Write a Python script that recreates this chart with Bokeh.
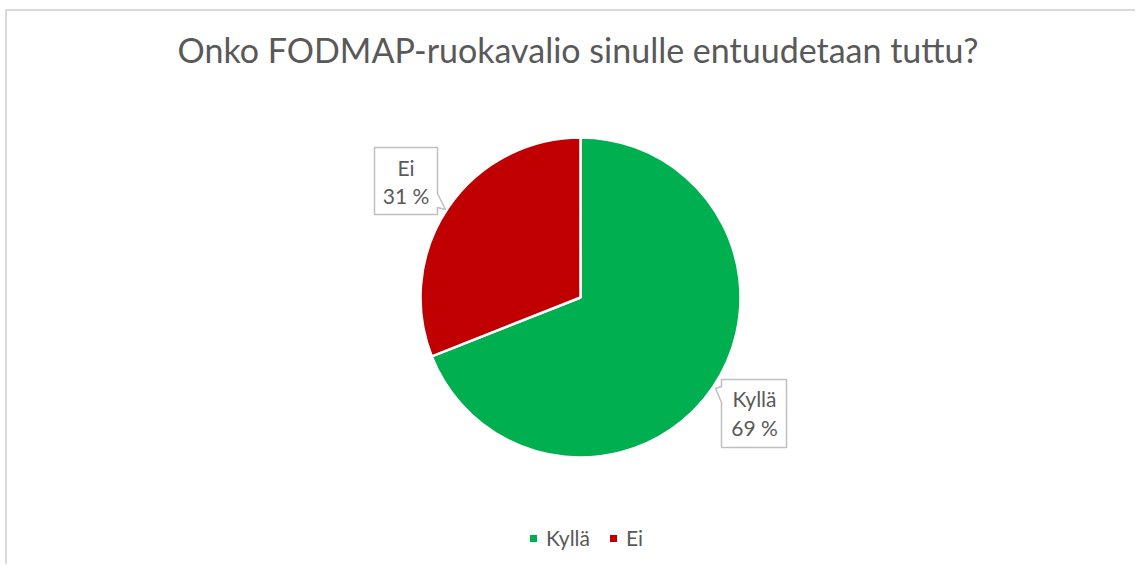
import math
from bokeh.plotting import figure
from bokeh.models import ColumnDataSource, Range1d, Legend, LegendItem
from bokeh.core.properties import value
from bokeh.embed import file_html
from bokeh.resources import INLINE

# ---- data ----
title_text = "Onko FODMAP-ruokavalio sinulle entuudetaan tuttu?"
categories = ["Kyllä", "Ei"]
shares = [69, 31]
colors = ["#00B050", "#C00000"]

TEXT = "#595959"
FONT = "Lato"

W, H = 1135, 564
p = figure(width=W, height=H, output_backend="svg", toolbar_location=None,
           x_range=Range1d(0, W), y_range=Range1d(0, H), min_border=0)
p.axis.visible = False
p.grid.visible = False
p.outline_line_color = None

def Y(py):
    return H - py

# chart border (left + top visible)
p.line(x=[5.5, 5.5, W], y=[0, Y(9.5), Y(9.5)], line_color="#d9d9d9", line_width=2)

# title
p.text(x=[577.5], y=[Y(49)], text=[title_text], text_align="center",
       text_baseline="alphabetic", text_font=value(FONT),
       text_font_size="34px", text_color=TEXT)

# pie
total = sum(shares)
starts, ends = [], []
cum = 0
for s in shares:
    starts.append(math.pi / 2 - 2 * math.pi * cum / total)
    cum += s
    ends.append(math.pi / 2 - 2 * math.pi * cum / total)

src = ColumnDataSource(dict(cat=categories, share=shares, color=colors,
                            start=starts, end=ends))
cx, cy, R = 580, Y(297), 160
wr = p.wedge(x=cx, y=cy, radius=R, radius_units="screen",
             start_angle="start", end_angle="end", direction="clock",
             fill_color="color", line_color="white", line_width=2.5, source=src)

# callouts (box with pointer), positioned by layout
callouts = {
    "Ei": dict(poly=[(374, 147), (437, 147), (437, 193), (445, 209), (437, 207),
                     (437, 214), (374, 214)],
               tx=405.5, ty1=167, ty2=195),
    "Kyllä": dict(poly=[(721, 379), (786, 379), (786, 447), (721, 447), (721, 402),
                        (715, 388), (721, 386)],
                  tx=754, ty1=398, ty2=427),
}
for cat, s in zip(categories, shares):
    c = callouts[cat]
    xs = [pt[0] for pt in c["poly"]]
    ys = [Y(pt[1]) for pt in c["poly"]]
    p.patch(x=xs, y=ys, fill_color="white", line_color="#bfbfbf", line_width=1.5)
    p.text(x=[c["tx"], c["tx"]], y=[Y(c["ty1"]), Y(c["ty2"])],
           text=[cat, f"{s} %"], text_align="center", text_baseline="alphabetic",
           text_font=value(FONT), text_font_size="21px", text_color=TEXT)

legend = Legend(items=[LegendItem(label=c, renderers=[wr], index=i)
                       for i, c in enumerate(categories)],
                orientation="horizontal", location=(527, 14),
                label_text_font=FONT, label_text_font_size="21px",
                label_text_color=TEXT, glyph_width=12, glyph_height=12,
                label_standoff=7, spacing=17, padding=0, margin=0,
                border_line_color=None, background_fill_alpha=0)
p.add_layout(legend)

open("out.html", "w").write(file_html(p, INLINE))
